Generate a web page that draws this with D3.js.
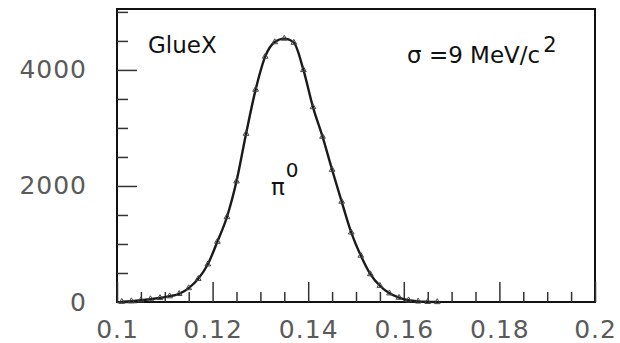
<!DOCTYPE html>
<html>
<head>
<meta charset="utf-8">
<script src="https://cdn.jsdelivr.net/npm/d3@7"></script>
<style>
  html, body { margin: 0; padding: 0; background: #fff; }
  svg { display: block; }
  text { font-family: "DejaVu Sans", "Liberation Sans", sans-serif; }
</style>
</head>
<body>
<svg id="chart" width="620" height="343"></svg>
<script>
// ---- data ----
const binCenters = [0.101,0.103,0.105,0.107,0.109,0.111,0.113,0.115,0.117,0.119,
                    0.121,0.123,0.125,0.127,0.129,0.131,0.133,0.135,0.137,0.139,
                    0.141,0.143,0.145,0.147,0.149,0.151,0.153,0.155,0.157,0.159,
                    0.161,0.163,0.165,0.167,0.169,0.171,0.173,0.175,0.177,0.179,
                    0.181,0.183,0.185,0.187,0.189,0.191,0.193,0.195,0.197,0.199];
const counts = [5,15,30,50,70,100,140,240,400,650,
                1040,1465,2080,2900,3660,4230,4480,4540,4470,4000,
                3360,2850,2280,1730,1200,800,480,280,150,75,
                30,10,3,0,0,0,0,0,0,0,
                0,0,0,0,0,0,0,0,0,0];
const xMajorTicks = [0.1,0.12,0.14,0.16,0.18,0.2];
const xTickLabels = ["0.1","0.12","0.14","0.16","0.18","0.2"];
const xMinorTicks = [0.105,0.11,0.115,0.125,0.13,0.135,0.145,0.15,0.155,0.165,0.17,0.175,0.185,0.19,0.195];
const yMajorTicks = [0, 2000, 4000];
const yTickLabels = ["0","2000","4000"];
const yMinorTicks = [500,1000,1500,2500,3000,3500,4500,5000];
const xDomain = [0.1, 0.2];
const yDomain = [0, 5050];

// ---- layout ----
const L = 117, R = 595, T = 9, B = 302;
const svg = d3.select("#chart");
const x = d3.scaleLinear().domain(xDomain).range([L, R]);
const y = d3.scaleLinear().domain(yDomain).range([B, T]);

// frame
svg.append("rect").attr("x", L).attr("y", T).attr("width", R - L).attr("height", B - T)
  .attr("fill", "none").attr("stroke", "#111").attr("stroke-width", 2);

// x axis
const gx = svg.append("g").attr("transform", `translate(0,${B})`);
gx.append("g").call(d3.axisBottom(x).tickValues(xMinorTicks).tickSizeInner(-10).tickSizeOuter(0).tickFormat(""));
gx.append("g").call(d3.axisBottom(x).tickValues(xMajorTicks).tickSizeInner(-20).tickSizeOuter(0)
  .tickPadding(18).tickFormat((d, i) => xTickLabels[i]));
gx.selectAll(".domain").remove();

// y axis
const gy = svg.append("g").attr("transform", `translate(${L},0)`);
gy.append("g").call(d3.axisLeft(y).tickValues(yMinorTicks).tickSizeInner(-11).tickSizeOuter(0).tickFormat(""));
gy.append("g").call(d3.axisLeft(y).tickValues(yMajorTicks).tickSizeInner(-20).tickSizeOuter(0)
  .tickPadding(30).tickFormat((d, i) => yTickLabels[i]));
gy.selectAll(".domain").remove();

svg.selectAll(".tick line").attr("stroke", "#333").attr("stroke-width", 1.5);
svg.selectAll(".tick text").attr("fill", "#5a5a5a").attr("font-size", 25)
  .attr("font-family", "DejaVu Sans").style("letter-spacing", "1px");

// curve
const line = d3.line().x((d, i) => x(binCenters[i])).y(d => y(d)).curve(d3.curveMonotoneX);
const pts = counts.filter((d, i) => d > 0 || (i > 0 && counts[i - 1] > 0));
svg.append("path").datum(pts).attr("d", line)
  .attr("fill", "none").attr("stroke", "#1a1a1a").attr("stroke-width", 2.4);

// open triangle markers (mostly hidden under the line, as in the reference)
const tri = d3.symbol().type(d3.symbolTriangle).size(14);
svg.append("g").selectAll("path").data(pts).join("path")
  .attr("d", tri)
  .attr("transform", (d, i) => `translate(${x(binCenters[i])},${y(d)})`)
  .attr("fill", "none").attr("stroke", "#444").attr("stroke-width", 1);

// annotations
svg.append("text").attr("x", 148).attr("y", 53).attr("font-size", 23).attr("fill", "#111")
  .text("GlueX");

const sig = svg.append("text").attr("x", 407).attr("y", 63).attr("font-size", 23).attr("fill", "#111");
sig.append("tspan").text("σ =9 MeV/c");
sig.append("tspan").attr("dx", 3).attr("dy", -11).attr("font-size", 21).text("2");

const pi = svg.append("text").attr("x", 271).attr("y", 195).attr("font-size", 23).attr("fill", "#111");
pi.append("tspan").text("π");
pi.append("tspan").attr("dx", 1).attr("dy", -18).attr("font-size", 20).text("0");
</script>
</body>
</html>
